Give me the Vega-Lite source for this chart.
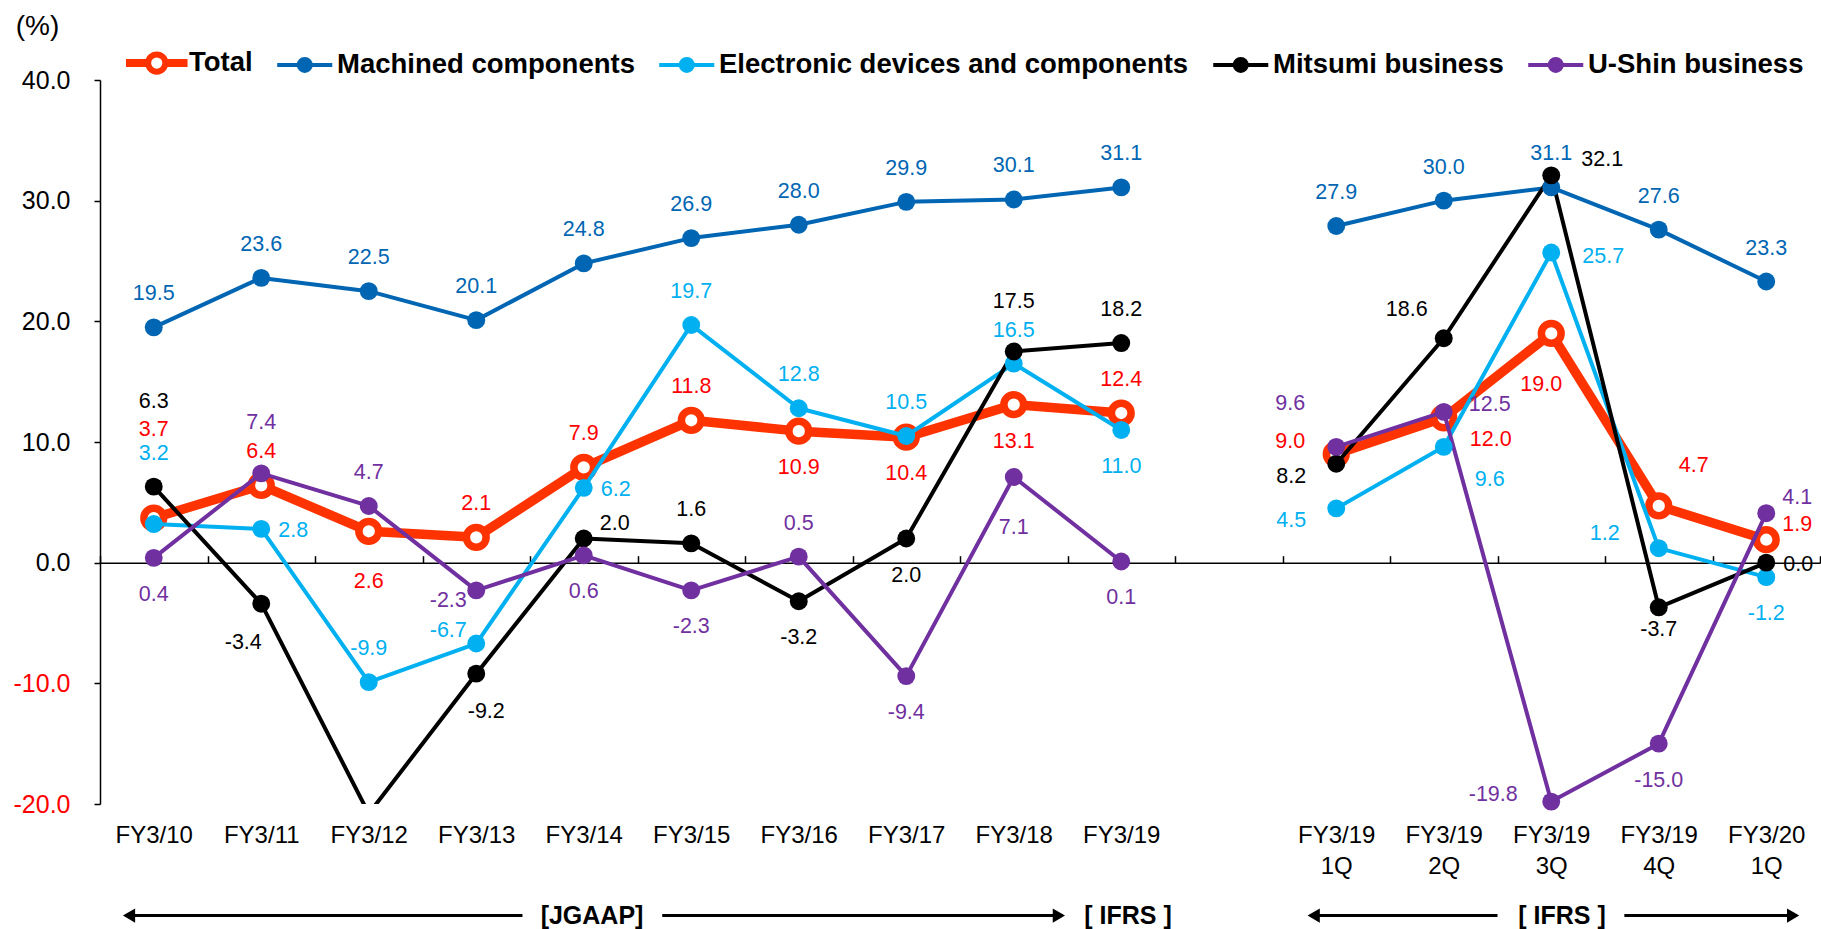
{
"$schema": "https://vega.github.io/schema/vega-lite/v6.json",
"width": 1720, "height": 724,
"padding": {"left": 100, "top": 80, "right": 1, "bottom": 125},
"autosize": {"type": "none"},
"background": "white",
"config": {
  "view": {"stroke": null},
  "font": "Liberation Sans",
  "text": {"font": "Liberation Sans", "fontSize": 21.5, "baseline": "middle", "align": "center"},
  "axis": {"labelFont": "Liberation Sans", "titleFont": "Liberation Sans"},
  "legend": {"labelFont": "Liberation Sans"}
},
"layer": [
  {
    "data": {"values": [
      {"cat": "FY3/10", "series": "Total", "value": 3.7, "period": "annual"},
      {"cat": "FY3/11", "series": "Total", "value": 6.4, "period": "annual"},
      {"cat": "FY3/12", "series": "Total", "value": 2.6, "period": "annual"},
      {"cat": "FY3/13", "series": "Total", "value": 2.1, "period": "annual"},
      {"cat": "FY3/14", "series": "Total", "value": 7.9, "period": "annual"},
      {"cat": "FY3/15", "series": "Total", "value": 11.8, "period": "annual"},
      {"cat": "FY3/16", "series": "Total", "value": 10.9, "period": "annual"},
      {"cat": "FY3/17", "series": "Total", "value": 10.4, "period": "annual"},
      {"cat": "FY3/18", "series": "Total", "value": 13.1, "period": "annual"},
      {"cat": "FY3/19", "series": "Total", "value": 12.4, "period": "annual"},
      {"cat": "FY3/19 1Q", "series": "Total", "value": 9.0, "period": "quarterly"},
      {"cat": "FY3/19 2Q", "series": "Total", "value": 12.0, "period": "quarterly"},
      {"cat": "FY3/19 3Q", "series": "Total", "value": 19.0, "period": "quarterly"},
      {"cat": "FY3/19 4Q", "series": "Total", "value": 4.7, "period": "quarterly"},
      {"cat": "FY3/20 1Q", "series": "Total", "value": 1.9, "period": "quarterly"},
      {"cat": "FY3/10", "series": "Machined components", "value": 19.5, "period": "annual"},
      {"cat": "FY3/11", "series": "Machined components", "value": 23.6, "period": "annual"},
      {"cat": "FY3/12", "series": "Machined components", "value": 22.5, "period": "annual"},
      {"cat": "FY3/13", "series": "Machined components", "value": 20.1, "period": "annual"},
      {"cat": "FY3/14", "series": "Machined components", "value": 24.8, "period": "annual"},
      {"cat": "FY3/15", "series": "Machined components", "value": 26.9, "period": "annual"},
      {"cat": "FY3/16", "series": "Machined components", "value": 28.0, "period": "annual"},
      {"cat": "FY3/17", "series": "Machined components", "value": 29.9, "period": "annual"},
      {"cat": "FY3/18", "series": "Machined components", "value": 30.1, "period": "annual"},
      {"cat": "FY3/19", "series": "Machined components", "value": 31.1, "period": "annual"},
      {"cat": "FY3/19 1Q", "series": "Machined components", "value": 27.9, "period": "quarterly"},
      {"cat": "FY3/19 2Q", "series": "Machined components", "value": 30.0, "period": "quarterly"},
      {"cat": "FY3/19 3Q", "series": "Machined components", "value": 31.1, "period": "quarterly"},
      {"cat": "FY3/19 4Q", "series": "Machined components", "value": 27.6, "period": "quarterly"},
      {"cat": "FY3/20 1Q", "series": "Machined components", "value": 23.3, "period": "quarterly"},
      {"cat": "FY3/10", "series": "Electronic devices and components", "value": 3.2, "period": "annual"},
      {"cat": "FY3/11", "series": "Electronic devices and components", "value": 2.8, "period": "annual"},
      {"cat": "FY3/12", "series": "Electronic devices and components", "value": -9.9, "period": "annual"},
      {"cat": "FY3/13", "series": "Electronic devices and components", "value": -6.7, "period": "annual"},
      {"cat": "FY3/14", "series": "Electronic devices and components", "value": 6.2, "period": "annual"},
      {"cat": "FY3/15", "series": "Electronic devices and components", "value": 19.7, "period": "annual"},
      {"cat": "FY3/16", "series": "Electronic devices and components", "value": 12.8, "period": "annual"},
      {"cat": "FY3/17", "series": "Electronic devices and components", "value": 10.5, "period": "annual"},
      {"cat": "FY3/18", "series": "Electronic devices and components", "value": 16.5, "period": "annual"},
      {"cat": "FY3/19", "series": "Electronic devices and components", "value": 11.0, "period": "annual"},
      {"cat": "FY3/19 1Q", "series": "Electronic devices and components", "value": 4.5, "period": "quarterly"},
      {"cat": "FY3/19 2Q", "series": "Electronic devices and components", "value": 9.6, "period": "quarterly"},
      {"cat": "FY3/19 3Q", "series": "Electronic devices and components", "value": 25.7, "period": "quarterly"},
      {"cat": "FY3/19 4Q", "series": "Electronic devices and components", "value": 1.2, "period": "quarterly"},
      {"cat": "FY3/20 1Q", "series": "Electronic devices and components", "value": -1.2, "period": "quarterly"},
      {"cat": "FY3/10", "series": "Mitsumi business", "value": 6.3, "period": "annual"},
      {"cat": "FY3/11", "series": "Mitsumi business", "value": -3.4, "period": "annual"},
      {"cat": "FY3/12", "series": "Mitsumi business", "value": -20.8, "period": "annual"},
      {"cat": "FY3/13", "series": "Mitsumi business", "value": -9.2, "period": "annual"},
      {"cat": "FY3/14", "series": "Mitsumi business", "value": 2.0, "period": "annual"},
      {"cat": "FY3/15", "series": "Mitsumi business", "value": 1.6, "period": "annual"},
      {"cat": "FY3/16", "series": "Mitsumi business", "value": -3.2, "period": "annual"},
      {"cat": "FY3/17", "series": "Mitsumi business", "value": 2.0, "period": "annual"},
      {"cat": "FY3/18", "series": "Mitsumi business", "value": 17.5, "period": "annual"},
      {"cat": "FY3/19", "series": "Mitsumi business", "value": 18.2, "period": "annual"},
      {"cat": "FY3/19 1Q", "series": "Mitsumi business", "value": 8.2, "period": "quarterly"},
      {"cat": "FY3/19 2Q", "series": "Mitsumi business", "value": 18.6, "period": "quarterly"},
      {"cat": "FY3/19 3Q", "series": "Mitsumi business", "value": 32.1, "period": "quarterly"},
      {"cat": "FY3/19 4Q", "series": "Mitsumi business", "value": -3.7, "period": "quarterly"},
      {"cat": "FY3/20 1Q", "series": "Mitsumi business", "value": 0.0, "period": "quarterly"},
      {"cat": "FY3/10", "series": "U-Shin business", "value": 0.4, "period": "annual"},
      {"cat": "FY3/11", "series": "U-Shin business", "value": 7.4, "period": "annual"},
      {"cat": "FY3/12", "series": "U-Shin business", "value": 4.7, "period": "annual"},
      {"cat": "FY3/13", "series": "U-Shin business", "value": -2.3, "period": "annual"},
      {"cat": "FY3/14", "series": "U-Shin business", "value": 0.6, "period": "annual"},
      {"cat": "FY3/15", "series": "U-Shin business", "value": -2.3, "period": "annual"},
      {"cat": "FY3/16", "series": "U-Shin business", "value": 0.5, "period": "annual"},
      {"cat": "FY3/17", "series": "U-Shin business", "value": -9.4, "period": "annual"},
      {"cat": "FY3/18", "series": "U-Shin business", "value": 7.1, "period": "annual"},
      {"cat": "FY3/19", "series": "U-Shin business", "value": 0.1, "period": "annual"},
      {"cat": "FY3/19 1Q", "series": "U-Shin business", "value": 9.6, "period": "quarterly"},
      {"cat": "FY3/19 2Q", "series": "U-Shin business", "value": 12.5, "period": "quarterly"},
      {"cat": "FY3/19 3Q", "series": "U-Shin business", "value": -19.8, "period": "quarterly"},
      {"cat": "FY3/19 4Q", "series": "U-Shin business", "value": -15.0, "period": "quarterly"},
      {"cat": "FY3/20 1Q", "series": "U-Shin business", "value": 4.1, "period": "quarterly"}
    ]},
    "transform": [
      {"calculate": "(datum.series === 'Total' ? 'T' : datum.series === 'Machined components' ? 'M' : datum.series === 'Electronic devices and components' ? 'E' : datum.series === 'Mitsumi business' ? 'K' : 'U') + '|' + datum.cat", "as": "k"},
      {"calculate": "replace(format(datum.value, '.1f'), '\u2212', '-')", "as": "lbl"}
    ],
    "encoding": {
      "x": {"field": "cat", "type": "nominal", "sort": null,
        "scale": {"domain": ["FY3/10","FY3/11","FY3/12","FY3/13","FY3/14","FY3/15","FY3/16","FY3/17","FY3/18","FY3/19"," ","FY3/19 1Q","FY3/19 2Q","FY3/19 3Q","FY3/19 4Q","FY3/20 1Q"], "paddingInner": 0, "paddingOuter": 0},
        "axis": {"orient": "bottom", "domain": false, "ticks": false, "tickSize": 0, "grid": false, "title": null,
          "labelAngle": 0, "labelPadding": 19, "labelFontSize": 24, "labelColor": "black", "labelBaseline": "top",
          "labelExpr": "split(datum.label, ' ')", "labelLineHeight": 31, "labelOverlap": false, "labelBound": false}},
      "y": {"field": "value", "type": "quantitative",
        "scale": {"domain": [-20, 40], "nice": false, "zero": false},
        "axis": {"values": [-20, -10, 0, 10, 20, 30, 40], "grid": false,
          "labelExpr": "replace(format(datum.value, '.1f'), '\u2212', '-')",
          "labelFontSize": 25, "labelColor": {"condition": {"test": "datum.value < 0", "value": "#FF0000"}, "value": "black"},
          "tickSize": 6, "labelPadding": 24, "domainColor": "black", "tickColor": "black", "domainWidth": 1.5, "tickWidth": 1.5,
          "title": "(%)", "titleAngle": 0, "titleX": -63, "titleY": -54, "titleFontSize": 28, "titleFontWeight": "normal",
          "titleAlign": "center", "titleBaseline": "middle", "titleColor": "black"}}
    },
    "layer": [
      {"transform": [{"filter": "false"}],
       "mark": {"type": "point", "filled": true, "opacity": 1},
       "encoding": {
         "fill": {"field": "series", "type": "nominal",
           "scale": {"domain": ["Total", "Machined components", "Electronic devices and components", "Mitsumi business", "U-Shin business"],
                     "range": ["#FFFFFF", "#0066B3", "#00B0F0", "#000000", "#7030A0"]},
           "legend": {"orient": "none", "legendX": 43, "legendY": -31, "direction": "horizontal", "title": null, "padding": 0,
             "labelFontSize": 27.5, "labelFontWeight": "bold", "labelColor": "black", "labelLimit": 700,
             "symbolSize": 256, "labelOffset": 18.5, "columnPadding": 16, "symbolOpacity": 1, "symbolStrokeWidth": 4}},
         "stroke": {"field": "series", "type": "nominal",
           "scale": {"domain": ["Total", "Machined components", "Electronic devices and components", "Mitsumi business", "U-Shin business"],
                     "range": ["#FF3300", "#0066B3", "#00B0F0", "#000000", "#7030A0"]},
           "legend": {"orient": "none", "legendX": 43, "legendY": -31, "direction": "horizontal", "title": null, "padding": 0,
             "labelFontSize": 27.5, "labelFontWeight": "bold", "labelColor": "black", "labelLimit": 700,
             "symbolSize": 256, "labelOffset": 18.5, "columnPadding": 16, "symbolOpacity": 1, "symbolStrokeWidth": 4}},
         "shape": {"field": "series", "type": "nominal",
           "scale": {"domain": ["Total", "Machined components", "Electronic devices and components", "Mitsumi business", "U-Shin business"],
                     "range": ["M-3.6,-0.25L-1.2,-0.25L-1.2,0.25L-3.6,0.25ZM1.2,-0.25L3.6,-0.25L3.6,0.25L1.2,0.25ZM-1.2,0A1.2,1.2,0,1,1,1.2,0A1.2,1.2,0,1,1,-1.2,0ZM-0.95,0A0.95,0.95,0,1,1,0.95,0A0.95,0.95,0,1,1,-0.95,0Z",
                               "M-3.44,0L3.44,0M-0.75,0A0.75,0.75,0,1,1,0.75,0A0.75,0.75,0,1,1,-0.75,0Z",
                               "M-3.44,0L3.44,0M-0.75,0A0.75,0.75,0,1,1,0.75,0A0.75,0.75,0,1,1,-0.75,0Z",
                               "M-3.44,0L3.44,0M-0.75,0A0.75,0.75,0,1,1,0.75,0A0.75,0.75,0,1,1,-0.75,0Z",
                               "M-3.44,0L3.44,0M-0.75,0A0.75,0.75,0,1,1,0.75,0A0.75,0.75,0,1,1,-0.75,0Z"]},
           "legend": {"orient": "none", "legendX": 43, "legendY": -31, "direction": "horizontal", "title": null, "padding": 0,
             "labelFontSize": 27.5, "labelFontWeight": "bold", "labelColor": "black", "labelLimit": 700,
             "symbolSize": 256, "labelOffset": 18.5, "columnPadding": 16, "symbolOpacity": 1, "symbolStrokeWidth": 4}}
       }},
      {"transform": [{"filter": "datum.series === 'Total'"}],
       "mark": {"type": "line", "strokeWidth": 9.5, "strokeJoin": "round", "clip": true, "color": "#FF3300"},
       "encoding": {"detail": {"field": "period"}}},
      {"transform": [{"filter": "datum.series === 'Total'"}],
       "mark": {"type": "point", "shape": "circle", "filled": false, "size": 390, "strokeWidth": 7.5, "opacity": 1, "fill": "white", "stroke": "#FF3300"}},
      {"transform": [{"filter": "datum.series !== 'Total'"}],
       "mark": {"type": "line", "strokeWidth": 4, "strokeJoin": "round", "clip": true},
       "encoding": {"detail": {"field": "period"}, "stroke": {"field": "series", "type": "nominal", "legend": null}}},
      {"transform": [{"filter": "datum.series !== 'Total' && datum.value >= -20"}],
       "mark": {"type": "circle", "size": 320, "opacity": 1},
       "encoding": {"fill": {"field": "series", "type": "nominal", "legend": null}}},
      {
        "transform": [{"filter": "datum.value >= -20"}],
        "encoding": {
          "text": {"field": "lbl", "type": "nominal"},
          "color": {"field": "series", "type": "nominal", "legend": null,
            "scale": {"domain": ["Total", "Machined components", "Electronic devices and components", "Mitsumi business", "U-Shin business"],
                      "range": ["#FF0000", "#0066B3", "#00B0F0", "#000000", "#7030A0"]}}
        },
        "layer": [
          {"transform": [{"filter": "datum.series === 'Machined components' || indexof(['T|FY3/11','T|FY3/13','T|FY3/14','T|FY3/15','T|FY3/19','E|FY3/12','E|FY3/15','E|FY3/16','E|FY3/17','E|FY3/18','K|FY3/15','K|FY3/19','U|FY3/12','U|FY3/16'], datum.k) >= 0"}],
           "mark": {"type": "text", "dx": 0, "dy": -33}},
          {"transform": [{"filter": {"field": "k", "oneOf": ["T|FY3/16","T|FY3/17","T|FY3/18","E|FY3/19","E|FY3/20 1Q","K|FY3/16","K|FY3/17","U|FY3/10","U|FY3/14","U|FY3/15","U|FY3/17","U|FY3/19","U|FY3/19 4Q"]}}],
           "mark": {"type": "text", "dx": 0, "dy": 37}},
          {"transform": [{"filter": {"field": "k", "oneOf": ["T|FY3/12","U|FY3/18"]}}],
           "mark": {"type": "text", "dx": 0, "dy": 51}},
          {"transform": [{"filter": {"field": "k", "oneOf": ["T|FY3/19 3Q"]}}],
           "mark": {"type": "text", "dx": -10, "dy": 52}},
          {"transform": [{"filter": {"field": "k", "oneOf": ["T|FY3/10"]}}],
           "mark": {"type": "text", "dx": 0, "dy": -88}},
          {"transform": [{"filter": {"field": "k", "oneOf": ["K|FY3/10"]}}],
           "mark": {"type": "text", "dx": 0, "dy": -85}},
          {"transform": [{"filter": {"field": "k", "oneOf": ["E|FY3/10"]}}],
           "mark": {"type": "text", "dx": 0, "dy": -70}},
          {"transform": [{"filter": {"field": "k", "oneOf": ["U|FY3/11","K|FY3/18"]}}],
           "mark": {"type": "text", "dx": 0, "dy": -50}},
          {"transform": [{"filter": {"field": "k", "oneOf": ["E|FY3/11","E|FY3/14","K|FY3/20 1Q"]}}],
           "mark": {"type": "text", "dx": 32, "dy": 2}},
          {"transform": [{"filter": {"field": "k", "oneOf": ["K|FY3/14","U|FY3/20 1Q","T|FY3/20 1Q"]}}],
           "mark": {"type": "text", "dx": 31, "dy": -15}},
          {"transform": [{"filter": {"field": "k", "oneOf": ["U|FY3/13"]}}],
           "mark": {"type": "text", "dx": -28, "dy": 11}},
          {"transform": [{"filter": {"field": "k", "oneOf": ["E|FY3/13"]}}],
           "mark": {"type": "text", "dx": -28, "dy": -13}},
          {"transform": [{"filter": {"field": "k", "oneOf": ["K|FY3/11"]}}],
           "mark": {"type": "text", "dx": -18, "dy": 39}},
          {"transform": [{"filter": {"field": "k", "oneOf": ["K|FY3/13"]}}],
           "mark": {"type": "text", "dx": 10, "dy": 38}},
          {"transform": [{"filter": {"field": "k", "oneOf": ["T|FY3/19 1Q"]}}],
           "mark": {"type": "text", "dx": -46, "dy": -12}},
          {"transform": [{"filter": {"field": "k", "oneOf": ["E|FY3/19 1Q","K|FY3/19 1Q"]}}],
           "mark": {"type": "text", "dx": -45, "dy": 13}},
          {"transform": [{"filter": {"field": "k", "oneOf": ["U|FY3/19 1Q"]}}],
           "mark": {"type": "text", "dx": -46, "dy": -43}},
          {"transform": [{"filter": {"field": "k", "oneOf": ["U|FY3/19 2Q"]}}],
           "mark": {"type": "text", "dx": 46, "dy": -7}},
          {"transform": [{"filter": {"field": "k", "oneOf": ["T|FY3/19 2Q"]}}],
           "mark": {"type": "text", "dx": 47, "dy": 22}},
          {"transform": [{"filter": {"field": "k", "oneOf": ["E|FY3/19 2Q"]}}],
           "mark": {"type": "text", "dx": 46, "dy": 33}},
          {"transform": [{"filter": {"field": "k", "oneOf": ["E|FY3/19 3Q"]}}],
           "mark": {"type": "text", "dx": 52, "dy": 4}},
          {"transform": [{"filter": {"field": "k", "oneOf": ["K|FY3/19 3Q"]}}],
           "mark": {"type": "text", "dx": 51, "dy": -15}},
          {"transform": [{"filter": {"field": "k", "oneOf": ["K|FY3/19 2Q"]}}],
           "mark": {"type": "text", "dx": -37, "dy": -28}},
          {"transform": [{"filter": {"field": "k", "oneOf": ["T|FY3/19 4Q"]}}],
           "mark": {"type": "text", "dx": 35, "dy": -40}},
          {"transform": [{"filter": {"field": "k", "oneOf": ["E|FY3/19 4Q"]}}],
           "mark": {"type": "text", "dx": -54, "dy": -14}},
          {"transform": [{"filter": {"field": "k", "oneOf": ["K|FY3/19 4Q"]}}],
           "mark": {"type": "text", "dx": 0, "dy": 23}},
          {"transform": [{"filter": {"field": "k", "oneOf": ["U|FY3/19 3Q"]}}],
           "mark": {"type": "text", "dx": -58, "dy": -7}}
        ]
      }
    ]
  },
  {
    "data": {"values": [
      {"kind": "line", "u": 0.27, "u2": 3.93},
      {"kind": "line", "u": 5.23, "u2": 8.92},
      {"kind": "line", "u": 11.29, "u2": 13.0},
      {"kind": "line", "u": 14.18, "u2": 15.75},
      {"kind": "left", "u": 0.27},
      {"kind": "left", "u": 11.29},
      {"kind": "right", "u": 8.92},
      {"kind": "right", "u": 15.75},
      {"kind": "label", "u": 4.577, "label": "[JGAAP]"},
      {"kind": "label", "u": 9.563, "label": "[ IFRS ]"},
      {"kind": "label", "u": 13.6, "label": "[ IFRS ]"}
    ]},
    "encoding": {
      "x": {"field": "u", "type": "quantitative", "scale": {"domain": [0, 16], "nice": false, "zero": false},
        "axis": {"orient": "top", "offset": -482.7, "values": [0,1,2,3,4,5,6,7,8,9,10,11,12,13,14,15,16],
          "labels": false, "ticks": true, "tickSize": 7, "domain": true, "grid": false, "title": null,
          "domainColor": "black", "tickColor": "black", "domainWidth": 1.5, "tickWidth": 1.5}},
      "y": {"datum": -29.25, "type": "quantitative", "scale": {"domain": [-20, 40], "nice": false, "zero": false}, "axis": null}
    },
    "layer": [
      {"transform": [{"filter": "datum.kind === 'line'"}],
       "mark": {"type": "rule", "strokeWidth": 3, "color": "black"},
       "encoding": {"x2": {"field": "u2"}}},
      {"transform": [{"filter": "datum.kind === 'left'"}],
       "mark": {"type": "point", "shape": "triangle-left", "filled": true, "color": "black", "size": 200, "opacity": 1}},
      {"transform": [{"filter": "datum.kind === 'right'"}],
       "mark": {"type": "point", "shape": "triangle-right", "filled": true, "color": "black", "size": 200, "opacity": 1}},
      {"transform": [{"filter": "datum.kind === 'label'"}],
       "mark": {"type": "text", "font": "Liberation Sans", "fontSize": 25, "fontWeight": "bold", "baseline": "middle", "align": "center", "color": "black"},
       "encoding": {"text": {"field": "label"}}}
    ]
  }
],
"resolve": {"scale": {"x": "independent", "y": "independent"}}
}
